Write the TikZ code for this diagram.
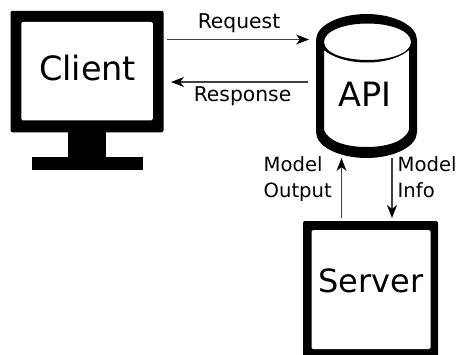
\documentclass[tikz,border=0pt]{standalone}
\usepackage{fontspec}
\setmainfont{DejaVu Sans}
\usetikzlibrary{arrows.meta}
\tikzset{
  title/.style={font=\fontsize{33.5}{40}\selectfont, inner sep=0pt, anchor=base},
  lbl/.style={font=\fontsize{20.3}{25}\selectfont, inner sep=0pt, anchor=base},
  sidelbl/.style={font=\fontsize{19.6}{25}\selectfont, inner sep=0pt, anchor=base west},
  outerbox/.style={fill=black, rounded corners=2pt, inner sep=0pt},
  innerbox/.style={fill=white, rounded corners=1.5pt, inner sep=0pt},
  conn/.style={draw=black!75, line width=1.1pt, -{Stealth[length=13pt,width=10pt,inset=4pt,color=black]}},
}
\begin{document}
\begin{tikzpicture}[x=1pt,y=-1pt]
\useasboundingbox (0,0) rectangle (458,354);
% monitor stand
\fill[black] (68,130) rectangle (106,158);
\fill[black] (32,157) rectangle (142.5,170);
% client
\node[outerbox, minimum width=153pt, minimum height=121.5pt] (clientframe) at (87,71.5) {};
\node[innerbox, minimum width=131.5pt, minimum height=98.5pt] (clientscreen) at (87,71) {};
\node[title] (clienttext) at (87.5,80) {Client};
% API cylinder
\fill[black, even odd rule]
  (316,40) .. controls (316,25) and (340,14) .. (366.5,14) .. controls (393,14) and (417,25) .. (417,40)
  -- (417,132) .. controls (417,147) and (393,158) .. (366.5,158) .. controls (340,158) and (316,147) .. (316,132) -- cycle
  (324,42) .. controls (324,31) and (344,23.5) .. (367.5,23.5) .. controls (391,23.5) and (411,31) .. (411,42)
  .. controls (411,53) and (391,60) .. (367.5,60) .. controls (344,60) and (324,53) .. (324,42) -- cycle
  (324,50) .. controls (332,57) and (348,62.5) .. (367,62.5) .. controls (386,62.5) and (401,57) .. (409,50)
  -- (409,130) .. controls (405,141) and (388,147) .. (366.5,147) .. controls (345,147) and (328,141) .. (324,130) -- cycle;
\node[title] (api) at (365,106) {API};
% server
\node[outerbox, minimum width=135pt, minimum height=136pt] (serverframe) at (370.5,289) {};
\node[innerbox, minimum width=119pt, minimum height=119pt] (serverscreen) at (371,289.5) {};
\node[title, font=\fontsize{32}{40}\selectfont] (server) at (371,292) {Server};
% connector ends
\coordinate (reqa) at (167,39.5);
\coordinate (reqb) at (309,39.5);
\coordinate (resa) at (308,82);
\coordinate (resb) at (171,82);
\coordinate (outa) at (341.5,217.5);
\coordinate (outb) at (341.5,158);
\coordinate (infoa) at (392,158);
\coordinate (infob) at (392,218);
\draw[conn] (reqa) -- (reqb);
\draw[conn] (resa) -- (resb);
\draw[conn] (outa) -- (outb);
\draw[conn] (infoa) -- (infob);
% labels
\node[lbl] (lreq) at (239,28) {Request};
\node[lbl] (lres) at (242.5,101.5) {Response};
\node[sidelbl] (lm1) at (263.5,171.5) {Model};
\node[sidelbl] (lo1) at (263.5,197) {Output};
\node[sidelbl] (lm2) at (397.5,171.5) {Model};
\node[sidelbl] (li2) at (397.5,197) {Info};
\end{tikzpicture}
\end{document}
